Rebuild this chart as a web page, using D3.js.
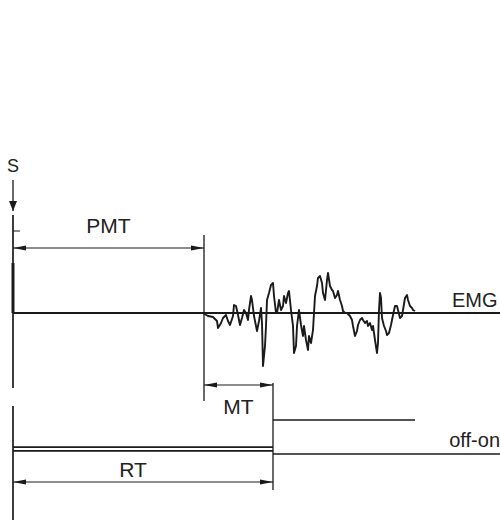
<!DOCTYPE html>
<html>
<head>
<meta charset="utf-8">
<script src="https://cdn.jsdelivr.net/npm/d3@7"></script>
<style>
  body { margin: 0; background: #fff; }
  text { font-family: "Liberation Sans", Arial, sans-serif; fill: #222; }
</style>
</head>
<body>
<div id="chart"></div>
<script>
// EMG trace, time in ms from stimulus, amplitude in arbitrary units (up = positive)
var emgTime = [190, 195, 200, 204, 205, 208, 210, 213, 215, 217, 220, 221, 223, 225, 227, 229, 231, 233, 235, 236,
  238, 239, 241, 243, 244, 246, 248, 249, 250, 252, 253, 254, 256, 258, 260, 261, 263, 264, 266, 268,
  270, 271, 273, 275, 276, 278, 280, 281, 283, 284, 286, 288, 290, 291, 293, 295, 296, 298, 300, 301,
  302, 304, 305, 307, 309, 310, 312, 314, 315, 317, 319, 320, 322, 324, 325, 327, 329, 330, 332, 334,
  337, 339, 340, 342, 344, 345, 347, 349, 350, 352, 354, 355, 357, 359, 360, 362, 364, 365, 366, 367,
  368, 369, 371, 373, 374, 376, 378, 380, 382, 384, 385, 387, 389, 390, 392, 394, 395, 397, 399, 400, 402];
var emgAmp = [0, -3, -4, -8, -15, -10, -5, -2, -8, -12, -3, 8, 7, -2, -12, -5, 3, 0, -7, 3,
  17, 13, -3, -13, -18, -8, 5, -10, -53, -33, -13, 13, 20, 28, 30, 17, 0, 0, 13, 3,
  7, 17, 10, 20, 22, 3, -13, -40, -33, -13, 3, -12, -23, -13, -27, -37, -23, -30, -17, 0,
  17, 27, 35, 37, 30, 20, 13, 33, 40, 27, 23, 22, 15, 18, 22, 13, 7, 2, 0, 0,
  -3, -7, -13, -23, -18, -12, -7, -5, -7, -10, -8, -13, -10, -17, -13, -27, -40, -30, 3, 20,
  15, -5, -13, -18, -22, -20, -12, -2, 7, 7, 3, -5, -3, 3, 15, 18, 13, 7, 5, 3, 2];

// intervals (ms)
var intervalNames = ["PMT", "MT", "RT"];
var intervalStart = [0, 191, 0];
var intervalEnd = [191, 260, 260];

// response key channel: off level (two traces before the press), on level after
var switchOffBefore = [0.2, 0.09];
var switchOffAfter = 0;
var switchOn = 1;
var switchOnEnd = 402;
var timeMax = 487;

var W = 500, H = 523;
var svg = d3.select("#chart").append("svg")
    .attr("width", W)
    .attr("height", H);

var x = d3.scaleLinear().domain([0, timeMax]).range([13, 500]);
var yEmg = d3.scaleLinear().domain([-60, 60]).range([373, 253]);
var ySw = d3.scaleLinear().domain([0, 1]).range([454, 420]);

var ink = "#1a1a1a";

// arrow markers
var defs = svg.append("defs");
defs.append("marker")
    .attr("id", "head")
    .attr("viewBox", "0 0 13 6")
    .attr("refX", 13).attr("refY", 3)
    .attr("markerWidth", 13).attr("markerHeight", 6)
    .attr("markerUnits", "userSpaceOnUse")
    .attr("orient", "auto-start-reverse")
  .append("path")
    .attr("d", "M0,0.5L13,3L0,5.5Z")
    .attr("fill", ink);
defs.append("marker")
    .attr("id", "sarrow")
    .attr("viewBox", "0 0 10 10")
    .attr("refX", 10).attr("refY", 5)
    .attr("markerWidth", 10).attr("markerHeight", 10)
    .attr("markerUnits", "userSpaceOnUse")
    .attr("orient", "auto")
  .append("path")
    .attr("d", "M0,1L10,5L0,9Z")
    .attr("fill", ink);

function vline(xx, y1, y2, w) {
  svg.append("line")
    .attr("x1", xx).attr("x2", xx)
    .attr("y1", y1).attr("y2", y2)
    .attr("stroke", ink).attr("stroke-width", w || 1.3);
}

// left time origin line (broken)
vline(x(0), 215, 388, 1.7);
vline(x(0), 406, 520, 1.7);
// stimulus marker
svg.append("line")
    .attr("x1", x(0)).attr("x2", x(0) + 7)
    .attr("y1", 231).attr("y2", 231)
    .attr("stroke", ink).attr("stroke-width", 1);
vline(x(0), 263, yEmg(0), 3);

// S arrow
svg.append("text")
    .attr("x", x(0)).attr("y", 172)
    .attr("text-anchor", "middle")
    .attr("font-size", 18)
    .text("S");
svg.append("line")
    .attr("x1", x(0)).attr("x2", x(0))
    .attr("y1", 180).attr("y2", 211)
    .attr("stroke", ink).attr("stroke-width", 1.3)
    .attr("marker-end", "url(#sarrow)");

// EMG baseline
svg.append("line")
    .attr("x1", x(0)).attr("x2", x(timeMax))
    .attr("y1", yEmg(0)).attr("y2", yEmg(0))
    .attr("stroke", ink).attr("stroke-width", 2.2);

// EMG trace
var emg = emgTime.map(function(t, i) { return [t, emgAmp[i]]; });
svg.append("path")
    .datum(emg)
    .attr("fill", "none")
    .attr("stroke", ink)
    .attr("stroke-width", 1.9)
    .attr("stroke-linejoin", "round")
    .attr("d", d3.line()
      .x(function(d) { return x(d[0]); })
      .y(function(d) { return yEmg(d[1]); }));

svg.append("text")
    .attr("x", 452).attr("y", 307)
    .attr("font-size", 20)
    .text("EMG");

// onset verticals
vline(x(intervalEnd[0]), 235, 401, 1.3);
vline(x(intervalEnd[1]), 383, 490, 1.3);

// switch channel
switchOffBefore.forEach(function(v) {
  svg.append("line")
    .attr("x1", x(0)).attr("x2", x(intervalEnd[2]))
    .attr("y1", ySw(v)).attr("y2", ySw(v))
    .attr("stroke", ink).attr("stroke-width", 1.7);
});
svg.append("line")
    .attr("x1", x(intervalEnd[2])).attr("x2", x(timeMax))
    .attr("y1", ySw(switchOffAfter)).attr("y2", ySw(switchOffAfter))
    .attr("stroke", ink).attr("stroke-width", 1.7);
svg.append("line")
    .attr("x1", x(intervalEnd[2])).attr("x2", x(switchOnEnd))
    .attr("y1", ySw(switchOn)).attr("y2", ySw(switchOn))
    .attr("stroke", ink).attr("stroke-width", 1.7);
svg.append("text")
    .attr("x", 500).attr("y", 447)
    .attr("text-anchor", "end")
    .attr("font-size", 20)
    .text("off-on");

// interval dimension arrows
var arrowY = [248, 385, 482];
var labelY = [233, 414, 477];
intervalNames.forEach(function(name, i) {
  svg.append("line")
    .attr("x1", x(intervalStart[i])).attr("x2", x(intervalEnd[i]))
    .attr("y1", arrowY[i]).attr("y2", arrowY[i])
    .attr("stroke", ink).attr("stroke-width", 1.2)
    .attr("marker-start", "url(#head)")
    .attr("marker-end", "url(#head)");
  svg.append("text")
    .attr("x", (x(intervalStart[i]) + x(intervalEnd[i])) / 2 + (i == 2 ? -10 : 0))
    .attr("y", labelY[i])
    .attr("text-anchor", "middle")
    .attr("font-size", 21)
    .text(name);
});
</script>
</body>
</html>
